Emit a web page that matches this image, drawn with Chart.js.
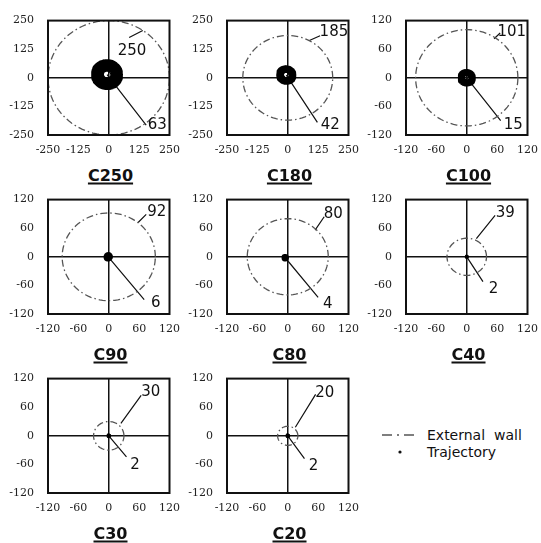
<!DOCTYPE html>
<html>
<head>
<meta charset="utf-8">
<script src="https://cdn.jsdelivr.net/npm/chart.js"></script>
<style>
  html, body { margin: 0; padding: 0; background: #fff; }
  #page { position: relative; width: 541px; height: 543px; overflow: hidden; background: #fff; }
  #page canvas { position: absolute; }
  .title {
    position: absolute; transform: translate(-50%, -50%); white-space: nowrap; color: #111;
    font: bold 16px "DejaVu Sans", sans-serif;
    text-decoration: underline; text-decoration-thickness: 2px; text-underline-offset: 2px;
  }
  .legend { position: absolute; left: 427px; transform: translateY(-50%); white-space: nowrap; font: 14px "DejaVu Sans", sans-serif; color: #111; }
</style>
</head>
<body>
<div id="page">
  <canvas id="legendWall" width="36" height="8" style="left:381px;top:431px"></canvas>
  <canvas id="legendDot" width="8" height="8" style="left:396px;top:448px"></canvas>
  <div class="legend" style="top:435px">External&nbsp; wall</div>
  <div class="legend" style="top:452px">Trajectory</div>
</div>
<script>
const cases = ['C250', 'C180', 'C100', 'C90', 'C80', 'C40', 'C30', 'C20'];
const wallRadius = [250, 185, 101, 92, 80, 39, 30, 20];
const trajectoryMax = [63, 42, 15, 6, 4, 2, 2, 2];
// mean radius of the trajectory loop and its centre
const trajLoopRadius = [40, 26, 11, 1, 1, 1, 1, 1];
const trajCenterX = [-7, -6, 0, -1, -5, 0, 0, 0];
const trajCenterY = [14, 12, 0, 0, -2, 0, 0, 0];
// axis ranges and tick labels
const axisLimit = [250, 250, 120, 120, 120, 120, 120, 120];
const ticksLarge = [-250, -125, 0, 125, 250];
const ticksSmall = [-120, -60, 0, 60, 120];

// layout / style bits
const colLeft = [48, 227, 406];
const rowTop = [14, 193, 372];
const trajWidth = [12.6, 7.5, 7, 8.5, 6.5, 3.5, 4, 4];

// annotation leaders in data units: [x1, y1, x2, y2], label centre [x, y]
const notes = [
  { wl: [140, 207, 84, 176], wt: [96, 117], tl: [154, -207], tt: [200, -207] },
  { wl: [89, 163, 133, 184], wt: [190, 198], tl: [122, -195], tt: [175, -208] },
  { wl: [54, 82, 66, 94], wt: [89, 95], tl: [67, -90], tt: [92, -100] },
  { wl: [58, 72, 74, 89], wt: [95, 94], tl: [70, -90], tt: [93, -98] },
  { wl: [54, 56, 72, 84], wt: [90, 90], tl: [60, -85], tt: [79, -100] },
  { wl: [19, 38, 56, 87], wt: [76, 92], tl: [32, -52], tt: [53, -67] },
  { wl: [24, 26, 64, 85], wt: [83, 92], tl: [35, -44], tt: [52, -62] },
  { wl: [15, 18, 55, 87], wt: [73, 89], tl: [33, -48], tt: [51, -63] }
];

function circlePoints(cx, cy, r) {
  const pts = [];
  for (let k = 0; k <= 96; k++) {
    const a = k / 96 * Math.PI * 2;
    pts.push({ x: cx + r * Math.cos(a), y: cy + r * Math.sin(a) });
  }
  return pts;
}

const panelDecor = {
  id: 'panelDecor',
  beforeDatasetsDraw(chart, args, opts) {
    const ctx = chart.ctx, sx = chart.scales.x, sy = chart.scales.y;
    const n = opts.note;
    ctx.save();
    ctx.strokeStyle = '#111';
    ctx.lineWidth = 1.2;
    ctx.beginPath();
    ctx.moveTo(sx.getPixelForValue(n.wl[0]), sy.getPixelForValue(n.wl[1]));
    ctx.lineTo(sx.getPixelForValue(n.wl[2]), sy.getPixelForValue(n.wl[3]));
    ctx.moveTo(sx.getPixelForValue(opts.cx), sy.getPixelForValue(opts.cy));
    ctx.lineTo(sx.getPixelForValue(n.tl[0]), sy.getPixelForValue(n.tl[1]));
    ctx.stroke();
    ctx.restore();
  },
  afterDraw(chart, args, opts) {
    const ctx = chart.ctx, a = chart.chartArea, sx = chart.scales.x, sy = chart.scales.y;
    const n = opts.note;
    ctx.save();
    ctx.strokeStyle = '#111';
    ctx.lineWidth = 2;
    ctx.strokeRect(a.left, a.top, a.right - a.left, a.bottom - a.top);
    ctx.fillStyle = '#111';
    ctx.font = '15px "DejaVu Sans", sans-serif';
    ctx.textAlign = 'center';
    ctx.textBaseline = 'middle';
    ctx.fillText(String(opts.wall), sx.getPixelForValue(n.wt[0]), sy.getPixelForValue(n.wt[1]));
    ctx.fillText(String(opts.traj), sx.getPixelForValue(n.tt[0]), sy.getPixelForValue(n.tt[1]));
    ctx.restore();
  }
};

const page = document.getElementById('page');

cases.forEach((name, i) => {
  const col = i % 3, row = Math.floor(i / 3);
  const plotLeft = colLeft[col], plotTop = rowTop[row];
  const lim = axisLimit[i];
  const tickList = lim > 200 ? ticksLarge : ticksSmall;

  const canvas = document.createElement('canvas');
  canvas.width = 188;
  canvas.height = 165;
  canvas.style.left = (plotLeft - 47) + 'px';
  canvas.style.top = (plotTop - 14) + 'px';
  page.appendChild(canvas);

  const title = document.createElement('div');
  title.className = 'title';
  title.textContent = name;
  title.style.left = (plotLeft + 62.5) + 'px';
  title.style.top = (plotTop + 161) + 'px';
  page.appendChild(title);

  const axis = (pos) => ({
    type: 'linear',
    position: pos,
    min: -lim,
    max: lim,
    afterBuildTicks: s => { s.ticks = tickList.map(v => ({ value: v })); },
    afterFit: s => { if (pos === 'left') s.width = 47; else s.height = 30; },
    ticks: {
      color: '#222',
      font: { family: '"DejaVu Serif", serif', size: 11 },
      padding: pos === 'left' ? 14 : 9,
      autoSkip: false,
      maxRotation: 0
    },
    grid: {
      drawTicks: false,
      lineWidth: 1.5,
      color: c => (c.tick && c.tick.value === 0) ? '#111' : 'rgba(0,0,0,0)'
    },
    border: { display: false }
  });

  new Chart(canvas, {
    type: 'scatter',
    data: {
      datasets: [
        {
          label: 'Trajectory',
          data: circlePoints(trajCenterX[i], trajCenterY[i], trajLoopRadius[i]),
          showLine: true,
          borderColor: '#000',
          borderWidth: trajWidth[i],
          borderJoinStyle: 'round',
          borderCapStyle: 'round',
          pointRadius: 0
        },
        {
          label: 'External wall',
          data: circlePoints(0, 0, wallRadius[i]),
          showLine: true,
          borderColor: '#555',
          borderWidth: 1.3,
          borderDash: [7, 3, 1.5, 3],
          pointRadius: 0
        }
      ]
    },
    options: {
      responsive: false,
      animation: false,
      devicePixelRatio: 1,
      layout: { padding: { top: 14, right: 16, left: 0, bottom: 0 } },
      scales: { x: axis('bottom'), y: axis('left') },
      plugins: {
        legend: { display: false },
        tooltip: { enabled: false },
        panelDecor: {
          note: notes[i],
          wall: wallRadius[i],
          traj: trajectoryMax[i],
          cx: trajCenterX[i],
          cy: trajCenterY[i]
        }
      }
    },
    plugins: [panelDecor]
  });
});

// legend glyphs
const lw = document.getElementById('legendWall').getContext('2d');
lw.strokeStyle = '#555';
lw.lineWidth = 1.3;
lw.setLineDash([10, 5, 2, 5]);
lw.beginPath();
lw.moveTo(1, 4);
lw.lineTo(35, 4);
lw.stroke();
const ld = document.getElementById('legendDot').getContext('2d');
ld.fillStyle = '#111';
ld.beginPath();
ld.arc(4, 4, 1.6, 0, Math.PI * 2);
ld.fill();
</script>
</body>
</html>
